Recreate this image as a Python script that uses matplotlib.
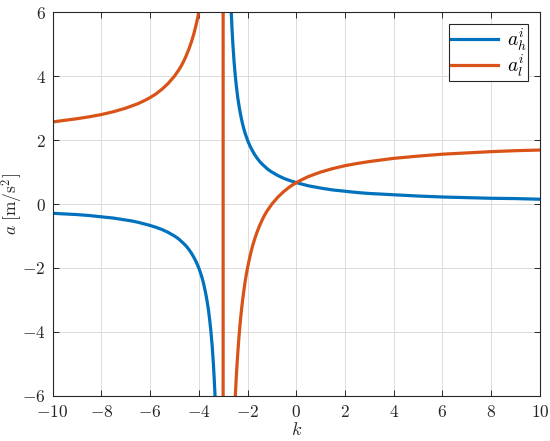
import matplotlib
matplotlib.use("Agg")
import matplotlib.pyplot as plt

plt.rcParams["mathtext.fontset"] = "cm"
plt.rcParams["font.family"] = "serif"
plt.rcParams["font.serif"] = ["cmr10", "DejaVu Serif"]
plt.rcParams["axes.formatter.use_mathtext"] = True

# a_h^i: left branch, then right branch of the pole
k_h_left = [-10, -9.5, -9, -8.5, -8, -7.5, -7, -6.75, -6.5, -6.25, -6, -5.75, -5.5, -5.25,
            -5, -4.9, -4.8, -4.7, -4.6, -4.5, -4.4, -4.3, -4.2, -4.1, -4.0, -3.95, -3.9,
            -3.85, -3.8, -3.75, -3.7, -3.65, -3.6, -3.55, -3.5, -3.45, -3.4, -3.36,
            -3.333, -3.3]
a_h_left = [-0.29, -0.31, -0.33, -0.36, -0.40, -0.44, -0.50, -0.53, -0.57, -0.62, -0.67,
            -0.73, -0.80, -0.89, -1.00, -1.05, -1.11, -1.18, -1.25, -1.33, -1.43, -1.54,
            -1.67, -1.82, -2.00, -2.11, -2.22, -2.35, -2.50, -2.67, -2.86, -3.08, -3.33,
            -3.64, -4.00, -4.44, -5.00, -5.56, -6.00, -6.67]
k_h_right = [-2.7, -2.667, -2.64, -2.6, -2.55, -2.5, -2.45, -2.4, -2.35, -2.3, -2.25, -2.2,
             -2.15, -2.1, -2.05, -2.0, -1.9, -1.8, -1.7, -1.6, -1.5, -1.4, -1.3, -1.2,
             -1.1, -1.0, -0.75, -0.5, -0.25, 0, 0.25, 0.5, 1, 1.5, 2, 2.5, 3, 3.5, 4, 5,
             6, 7, 8, 9, 10]
a_h_right = [6.67, 6.00, 5.56, 5.00, 4.44, 4.00, 3.64, 3.33, 3.08, 2.86, 2.67, 2.50, 2.35,
             2.22, 2.11, 2.00, 1.82, 1.67, 1.54, 1.43, 1.33, 1.25, 1.18, 1.11, 1.05, 1.00,
             0.89, 0.80, 0.73, 0.67, 0.62, 0.57, 0.50, 0.44, 0.40, 0.36, 0.33, 0.31, 0.29,
             0.25, 0.22, 0.20, 0.18, 0.17, 0.15]

# a_l^i (joined across the pole -> vertical line at k = -3)
k_l = [-10, -9.5, -9, -8.5, -8, -7.5, -7, -6.75, -6.5, -6.25, -6, -5.75, -5.5, -5.25, -5,
       -4.9, -4.8, -4.7, -4.6, -4.5, -4.4, -4.3, -4.2, -4.1, -4.05, -4.0, -3.95,
       -3.0, -3.0,
       -2.55, -2.5, -2.45, -2.4, -2.35, -2.3, -2.25, -2.2, -2.15, -2.1, -2.05, -2.0, -1.9,
       -1.8, -1.7, -1.6, -1.5, -1.4, -1.3, -1.2, -1.1, -1.0, -0.75, -0.5, -0.25, 0, 0.25,
       0.5, 1, 1.5, 2, 2.5, 3, 3.5, 4, 5, 6, 7, 8, 9, 10]
a_l = [2.57, 2.62, 2.67, 2.73, 2.80, 2.89, 3.00, 3.07, 3.14, 3.23, 3.33, 3.45, 3.60, 3.78,
       4.00, 4.11, 4.22, 4.35, 4.50, 4.67, 4.86, 5.08, 5.33, 5.64, 5.81, 6.00, 6.21,
       40.0, -40.0,
       -6.89, -6.00, -5.27, -4.67, -4.15, -3.71, -3.33, -3.00, -2.71, -2.44, -2.21, -2.00,
       -1.64, -1.33, -1.08, -0.86, -0.67, -0.50, -0.35, -0.22, -0.11, 0.00, 0.22, 0.40,
       0.55, 0.67, 0.77, 0.86, 1.00, 1.11, 1.20, 1.27, 1.33, 1.38, 1.43, 1.50, 1.56, 1.60,
       1.64, 1.67, 1.69]

x_ticks = [-10, -8, -6, -4, -2, 0, 2, 4, 6, 8, 10]
x_tick_labels = [r"$-10$", r"$-8$", r"$-6$", r"$-4$", r"$-2$", r"$0$", r"$2$", r"$4$",
                 r"$6$", r"$8$", r"$10$"]
y_ticks = [-6, -4, -2, 0, 2, 4, 6]
y_tick_labels = [r"$-6$", r"$-4$", r"$-2$", r"$0$", r"$2$", r"$4$", r"$6$"]

fig = plt.figure(figsize=(5.5, 4.41), dpi=100)
ax = fig.add_axes([0.0955, 0.1027, 0.8863, 0.8693])

blue = "#0072BD"
ax.plot(k_h_left, a_h_left, color=blue, lw=2.3, label=r"$a_h^i$")
ax.plot(k_h_right, a_h_right, color=blue, lw=2.3)
ax.plot(k_l, a_l, color="#D95319", lw=2.3, label=r"$a_l^i$")

ax.set_xlim(-10, 10)
ax.set_ylim(-6, 6)
ax.set_xticks(x_ticks)
ax.set_xticklabels(x_tick_labels)
ax.set_yticks(y_ticks)
ax.set_yticklabels(y_tick_labels)
ax.tick_params(direction="in", top=True, right=True, length=4, width=0.7,
               colors="#262626", labelsize=12.5)
ax.tick_params(axis="x", pad=6)
ax.tick_params(axis="y", pad=5)
ax.grid(True, color="#dcdcdc", lw=0.7)
for spine in ax.spines.values():
    spine.set_edgecolor("#262626")
    spine.set_linewidth(0.8)

ax.set_xlabel(r"$k$", fontsize=13, color="#262626", labelpad=1)
ax.set_ylabel(r"$a\ [\mathrm{m/s^2}]$", fontsize=12.5, color="#262626")
ax.yaxis.set_label_coords(-0.056, 0.5)

leg = ax.legend(loc="upper right", fontsize=14, fancybox=False, framealpha=1,
                edgecolor="#262626", handlelength=2.4, borderpad=0.1,
                labelspacing=0.0, handletextpad=0.45, borderaxespad=0.6)
leg.get_frame().set_linewidth(0.8)

fig.savefig("out.png", dpi=100)
